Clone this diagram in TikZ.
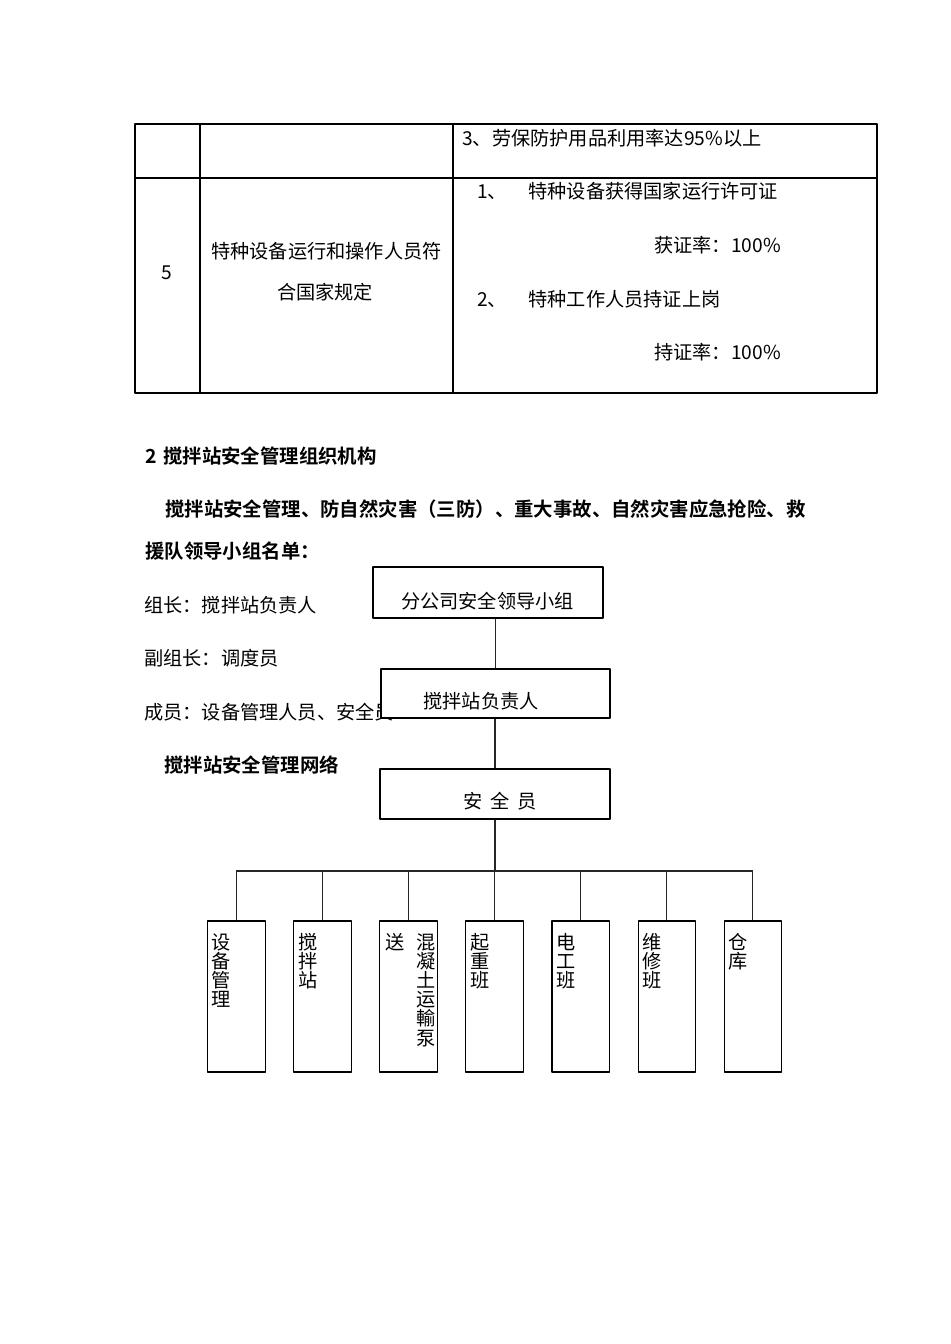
\documentclass[tikz,border=0pt]{standalone}
\usepackage{fontspec}
\setmainfont{Noto Sans CJK SC}[BoldFont={* Bold}]
\usepackage{tikz}
\usetikzlibrary{calc}
\newcommand{\bodysize}{\fontsize{14.4}{14.4}\selectfont}

\begin{document}
\begin{tikzpicture}[x=0.75pt,y=-0.75pt,line join=round,
    txt/.style={anchor=west,inner sep=0pt,font=\bodysize},
    ctxt/.style={anchor=center,inner sep=0pt,font=\bodysize},
    hd/.style={anchor=west,inner sep=0pt,font=\fontsize{14.55}{14.55}\selectfont\bfseries},
    vtxt/.style={anchor=north,inner sep=0pt,align=center,font=\bodysize},
    grid/.style={line width=0.9pt},
    orgbox/.style={draw,fill=white,line width=0.8pt,inner sep=0pt},
    unitbox/.style={orgbox,minimum width=43.1pt,minimum height=113.25pt},
    link/.style={line width=0.8pt,black!85}]
  \useasboundingbox (0,0) rectangle (950,1344);
  % table
  \coordinate (TL) at (135,124);
  \coordinate (TR) at (877,124);
  \coordinate (ML) at (135,178);
  \coordinate (MR) at (877,178);
  \coordinate (BL) at (135,393);
  \coordinate (BR) at (877,393);
  \coordinate (C1T) at (200,124);
  \coordinate (C1B) at (200,393);
  \coordinate (C2T) at (453,124);
  \coordinate (C2B) at (453,393);
  \draw[grid] (TL) -- (TR) -- (BR) -- (BL) -- cycle;
  \draw[grid] (ML) -- (MR);
  \draw[grid] (C1T) -- (C1B);
  \draw[grid] (C2T) -- (C2B);
  \node[txt] (r4c) at (462,138) {3、劳保防护用品利用率达95\%以上};
  \node[ctxt] (r5a) at (166.5,272.5) {5};
  \node[ctxt] (r5b1) at (326.5,251) {特种设备运行和操作人员符};
  \node[ctxt] (r5b2) at (325,292) {合国家规定};
  \node[txt] (r5c1) at (477,191.5) {1、\hspace{16pt}特种设备获得国家运行许可证};
  \node[txt] (r5c2) at (654,245) {获证率：100\%};
  \node[txt] (r5c3) at (477,299.5) {2、\hspace{16pt}特种工作人员持证上岗};
  \node[txt] (r5c4) at (654,352) {持证率：100\%};
  % text
  \node[hd] (h2) at (145,456) {2\hspace{5pt}搅拌站安全管理组织机构};
  \node[hd] (p1) at (165,509) {搅拌站安全管理、防自然灾害（三防）、重大事故、自然灾害应急抢险、救};
  \node[hd] (p2) at (145,551) {援队领导小组名单：};
  \node[txt] (zz) at (144,605) {组长：搅拌站负责人};
  \node[txt] (fzz) at (144,658) {副组长：调度员};
  \node[txt] (cy) at (144,712) {成员：设备管理人员、安全员};
  \node[hd] (wl) at (164,765) {搅拌站安全管理网络};
  % chart
  \node[orgbox,minimum width=172.5pt,minimum height=38.25pt] (fgs) at (488,592.5) {};
  \node[orgbox,minimum width=171.75pt,minimum height=36.75pt] (fzr) at (495.5,693.5) {};
  \node[orgbox,minimum width=172.5pt,minimum height=37.5pt] (aqy) at (495,794) {};
  \node[ctxt] (fgs-t) at (487.5,601) {分公司安全领导小组};
  \node[ctxt] (fzr-t) at (481,701.5) {搅拌站负责人};
  \node[ctxt] (aqy-t) at (500,801.5) {安\hspace{6pt}全\hspace{6pt}员};
  \node[unitbox] (b1) at (236.3,996.5) {};
  \node[unitbox] (b2) at (322.4,996.5) {};
  \node[unitbox] (b3) at (408.5,996.5) {};
  \node[unitbox] (b4) at (494.6,996.5) {};
  \node[unitbox] (b5) at (580.7,996.5) {};
  \node[unitbox] (b6) at (666.8,996.5) {};
  \node[unitbox] (b7) at (752.9,996.5) {};
  \node[vtxt] (b1-t) at ($(b1.north west)+(14.5,12.5)$) {设\\备\\管\\理};
  \node[vtxt] (b2-t) at ($(b2.north west)+(14.5,12.5)$) {搅\\拌\\站};
  \node[vtxt] (b3-ta) at ($(b3.north west)+(15.5,12.5)$) {送};
  \node[vtxt] (b3-tb) at ($(b3.north west)+(46.5,12.5)$) {混\\凝\\土\\运\\輸\\泵};
  \node[vtxt] (b4-t) at ($(b4.north west)+(14.5,12.5)$) {起\\重\\班};
  \node[vtxt] (b5-t) at ($(b5.north west)+(14.5,12.5)$) {电\\工\\班};
  \node[vtxt] (b6-t) at ($(b6.north west)+(14.5,12.5)$) {维\\修\\班};
  \node[vtxt] (b7-t) at ($(b7.north west)+(14.5,12.5)$) {仓\\库};
  \coordinate (bus) at (495,871);
  \draw[link] (fzr.north) -- (fzr.north |- fgs.south);
  \draw[link] (aqy.north) -- (aqy.north |- fzr.south);
  \draw[link] (aqy.south) -- (aqy.south |- bus);
  \draw[link] (b1.north |- bus) -- (b7.north |- bus);
  \draw[link] (b1.north |- bus) -- (b1.north);
  \draw[link] (b2.north |- bus) -- (b2.north);
  \draw[link] (b3.north |- bus) -- (b3.north);
  \draw[link] (b4.north |- bus) -- (b4.north);
  \draw[link] (b5.north |- bus) -- (b5.north);
  \draw[link] (b6.north |- bus) -- (b6.north);
  \draw[link] (b7.north |- bus) -- (b7.north);
\end{tikzpicture}
\end{document}
